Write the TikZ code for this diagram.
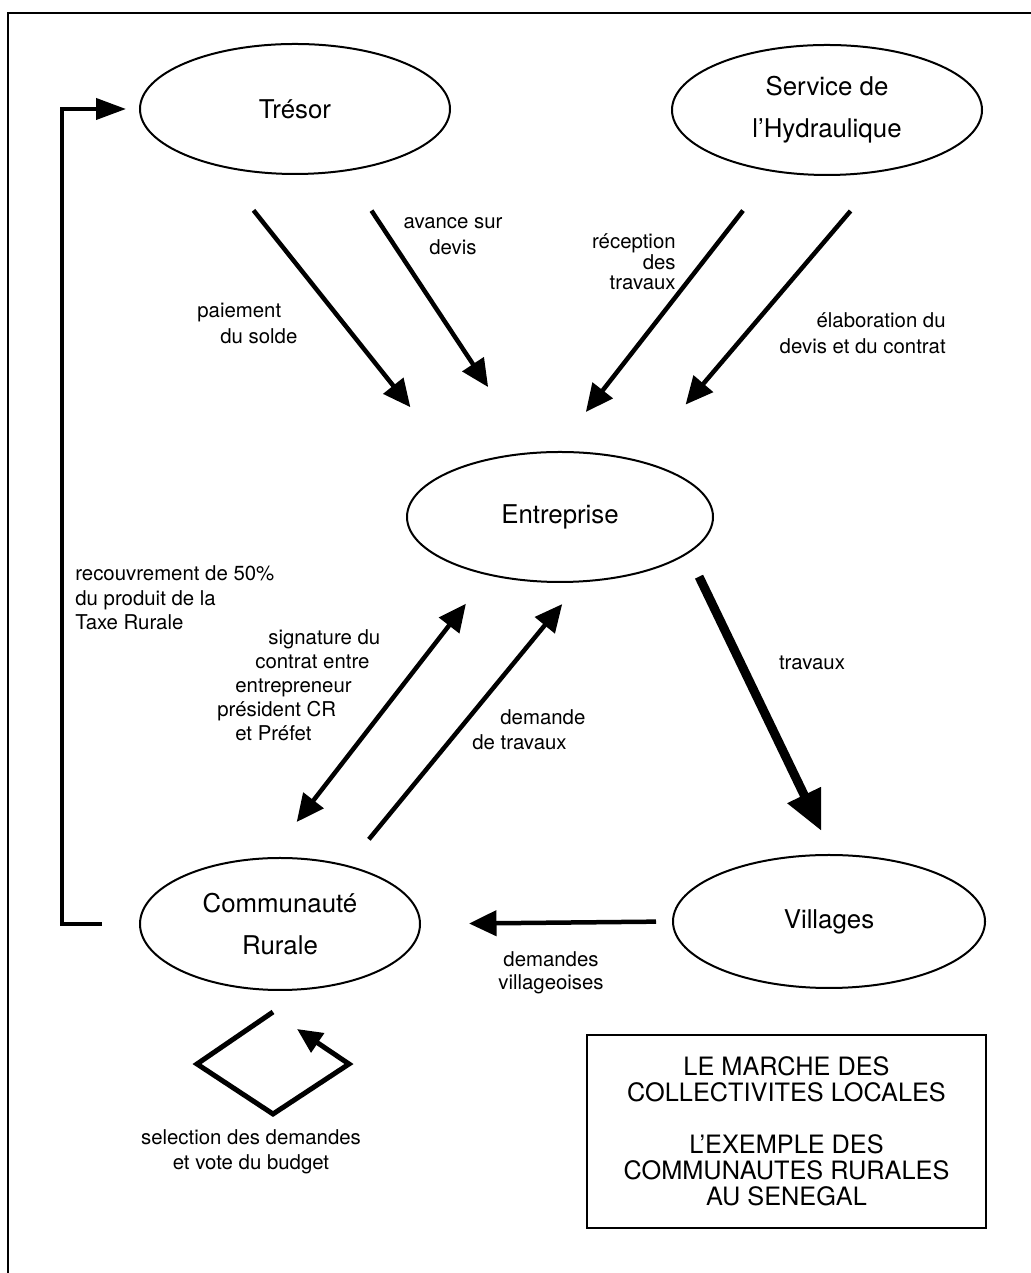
\documentclass[tikz,border=0pt]{standalone}
\usepackage{fontspec}
\setmainfont{TeX Gyre Heros}
\usetikzlibrary{arrows.meta,shapes.geometric}

\begin{document}
\begin{tikzpicture}[
        bulle/.style={draw,ellipse,line width=0.04cm,inner sep=0pt,align=center,
          font=\fontsize{14.7}{24}\selectfont},
        lbl/.style={inner sep=0pt,font=\fontsize{11.6}{14.5}\selectfont},
        fleche/.style={line width=0.09cm,-{Triangle[length=0.55cm,width=0.5cm]}},
        ]
        \useasboundingbox (0,0) rectangle (20.62,25.46) ;
        %\draw[very thin,gray!40,step=1] (0,0) grid (20.62,25.46) ;
        \draw[line width=0.04cm] (0.16,0) -- (0.16,25.2) -- (20.62,25.2) ;

        \node[bulle,minimum width=6.2cm,minimum height=2.6cm] (tresor) at (5.9,23.28) {Trésor} ;
        \node[bulle,minimum width=6.2cm,minimum height=2.6cm] (hydraulique) at (16.54,23.26)
        {Service de\\l'Hydraulique} ;
        \node[bulle,minimum width=6.12cm,minimum height=2.6cm] (entreprise) at (11.2,15.12) {Entreprise} ;
        \node[bulle,minimum width=5.6cm,minimum height=2.64cm] (communaute) at (5.6,6.98)
        {Communauté\\Rurale} ;
        \node[bulle,minimum width=6.24cm,minimum height=2.66cm] (villages) at (16.58,7.03) {Villages} ;

        % vers l'entreprise
        \draw[fleche,shorten <=1.12cm,shorten >=1.54cm] (tresor.217.5) -- (entreprise.154.7) ;
        \draw[fleche,shorten <=0.94cm,shorten >=1.56cm] (tresor.309.1) -- (entreprise.114.5) ;
        \draw[fleche,shorten <=0.98cm,shorten >=0.99cm] (hydraulique.229.9) -- (entreprise.94.1) ;
        \draw[fleche,shorten <=1.04cm,shorten >=1.46cm] (hydraulique.313.2) -- (entreprise.36.9) ;
        \draw[line width=0.18cm,-{Triangle[length=0.8cm,width=0.7cm]},shorten <=0.51cm,shorten >=0.51cm]
        (entreprise.344.9) -- (villages.87.6) ;
        \draw[line width=0.09cm,{Triangle[length=0.55cm,width=0.5cm]}-{Triangle[length=0.55cm,width=0.5cm]},
        shorten <=0.89cm,shorten >=0.72cm] (communaute.99.8) -- (entreprise.219) ;
        \draw[fleche,shorten <=0.67cm,shorten >=0.56cm] (communaute.41) -- (entreprise.287) ;
        \draw[fleche,shorten <=0.32cm,shorten >=0.96cm] (villages.west) -- (communaute.east) ;

        % taxe rurale
        \draw[line width=0.08cm,-{Triangle[length=0.6cm,width=0.42cm]}]
        ([xshift=-0.74cm]communaute.west) -- ([xshift=-1.54cm]communaute.west)
        |- ([xshift=-0.26cm]tresor.west) ;
        \draw[line width=0.1cm,-{Triangle[length=0.5cm,width=0.45cm]}]
        ([shift={(-0.14,-0.42)}]communaute.south) -- ++(-1.52,-1.04) -- ++(1.52,-1.0)
        -- ++(1.52,1.0) -- ++(-1.04,0.7) ;

        \node[lbl,anchor=west,align=left] (lpaiement) at (3.94,18.99)
        {paiement\\\hspace*{0.46cm}du solde} ;
        \node[lbl,align=center] (lavance) at (9.06,20.74) {avance sur\\devis} ;
        \node[lbl,anchor=east,align=right,font=\fontsize{11.6}{11.8}\selectfont] (lreception) at (13.52,20.22)
        {réception\\des\\travaux} ;
        \node[lbl,anchor=east,align=right] (lelaboration) at (18.92,18.8)
        {élaboration du\\devis et du contrat} ;
        \node[lbl] (ltravaux) at (16.24,12.2) {travaux} ;
        \node[lbl,anchor=west,align=left,font=\fontsize{11.6}{13.9}\selectfont] (lrecouvrement) at (1.5,13.5)
        {recouvrement de 50\%\\du produit de la\\Taxe Rurale} ;
        \node[lbl,anchor=west,align=left,font=\fontsize{11.6}{13.6}\selectfont] (lsignature) at (4.34,11.76)
        {\hspace*{1.02cm}signature du\\\hspace*{0.76cm}contrat entre\\\hspace*{0.36cm}entrepreneur\\
          président CR\\\hspace*{0.36cm}et Préfet} ;
        \node[lbl,anchor=west,align=left] (ldemande) at (9.44,10.87)
        {\hspace*{0.56cm}demande\\de travaux} ;
        \node[lbl,align=center,font=\fontsize{11.6}{13}\selectfont] (lvillageoises) at (11.02,6.0)
        {demandes\\villageoises} ;
        \node[lbl,align=center] (lselection) at (5.02,2.42)
        {selection des demandes\\et vote du budget} ;

        \node[draw,line width=0.04cm,minimum width=7.98cm,minimum height=3.86cm,align=center,
          font=\fontsize{14.4}{14.8}\selectfont] (titre) at (15.73,2.83)
        {LE MARCHE DES\\COLLECTIVITES LOCALES\\[15pt]L'EXEMPLE DES\\COMMUNAUTES RURALES\\AU SENEGAL} ;
      \end{tikzpicture}
\end{document}
